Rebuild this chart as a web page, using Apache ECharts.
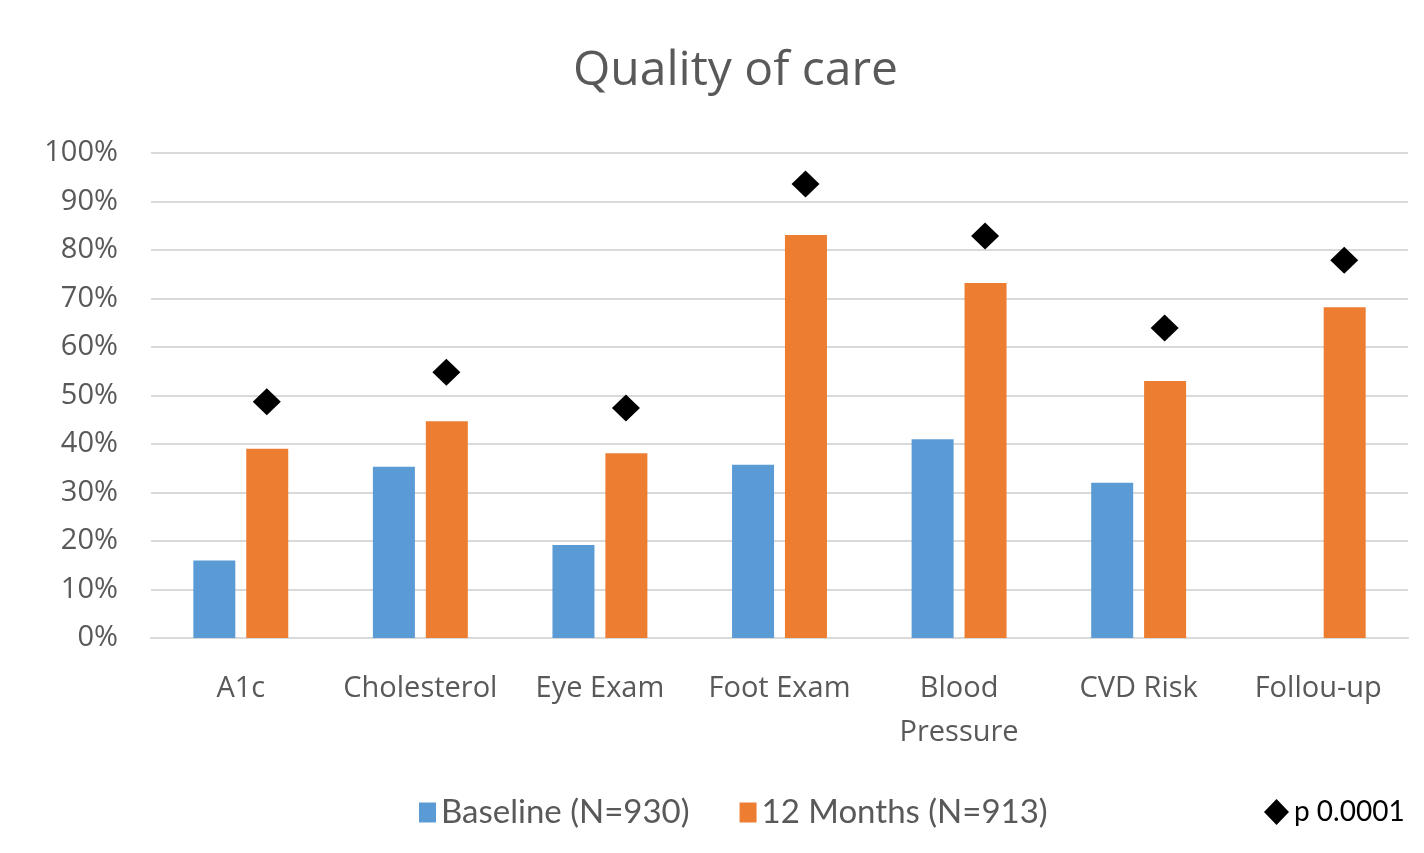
<!DOCTYPE html>
<html>
<head>
    <meta charset="utf-8">
    <title>Quality of care</title>
    <script src="https://cdn.jsdelivr.net/npm/echarts@6/dist/echarts.min.js"></script>
    <style>
        html, body { margin: 0; padding: 0; background: #fff; }
        #chart { width: 1424px; height: 853px; }
    </style>
</head>
<body>
<div id="chart"></div>
<script>
    var categories = ['A1c', 'Cholesterol', 'Eye Exam', 'Foot Exam', 'Blood\nPressure', 'CVD Risk', 'Follou-up'];
    var baseline = [16, 35.3, 19.2, 35.7, 41, 32, null];
    var months12 = [39, 44.7, 38.1, 83.1, 73.2, 53, 68.2];
    var pValue = [48.7, 54.8, 47.4, 93.6, 82.9, 63.9, 77.9];

    var FONT = '"Open Sans", Lato, sans-serif';
    var LEGEND_FONT = 'Lato, sans-serif';
    var GREY = '#595959';

    var chart = echarts.init(document.getElementById('chart'));

    var option = {
        backgroundColor: '#fff',
        title: {
            text: 'Quality of care',
            left: 568,
            top: 42,
            textStyle: { fontFamily: FONT, fontSize: 48, fontWeight: 'normal', color: GREY }
        },
        legend: [{
            data: ['Baseline (N=930)', '12 Months (N=913)'],
            left: 414,
            top: 791,
            itemWidth: 17,
            itemHeight: 20,
            itemGap: 50,
            icon: 'rect',
            textStyle: { fontFamily: LEGEND_FONT, fontSize: 33, color: GREY }
        }, {
            data: ['p 0.0001'],
            left: 1259,
            top: 793,
            itemWidth: 25,
            itemHeight: 26,
            icon: 'diamond',
            textStyle: { fontFamily: LEGEND_FONT, fontSize: 28, color: '#000' }
        }],
        grid: { left: 151, right: 16, top: 153, bottom: 215 },
        xAxis: {
            type: 'category',
            data: categories,
            axisLine: { lineStyle: { color: '#d9d9d9', width: 2 } },
            axisTick: { show: false },
            axisLabel: {
                margin: 29,
                fontFamily: FONT,
                fontSize: 29,
                lineHeight: 44,
                color: GREY,
                interval: 0
            }
        },
        yAxis: {
            type: 'value',
            min: 0,
            max: 100,
            interval: 10,
            axisLine: { show: false },
            axisTick: { show: false },
            splitLine: { lineStyle: { color: '#d9d9d9', width: 2 } },
            axisLabel: {
                margin: 33,
                formatter: '{value}%',
                fontFamily: FONT,
                fontSize: 29,
                color: GREY
            }
        },
        series: [{
            name: 'Baseline (N=930)',
            type: 'bar',
            data: baseline,
            barWidth: 42,
            barGap: '26%',
            itemStyle: { color: '#5b9bd5' }
        }, {
            name: '12 Months (N=913)',
            type: 'bar',
            data: months12,
            barWidth: 42,
            itemStyle: { color: '#ed7d31' }
        }, {
            name: 'p 0.0001',
            type: 'scatter',
            data: pValue,
            symbol: 'diamond',
            symbolSize: [28, 27],
            symbolOffset: [26, 0],
            itemStyle: { color: '#000', opacity: 1 },
            z: 5
        }]
    };

    chart.setOption(option);
</script>
</body>
</html>
